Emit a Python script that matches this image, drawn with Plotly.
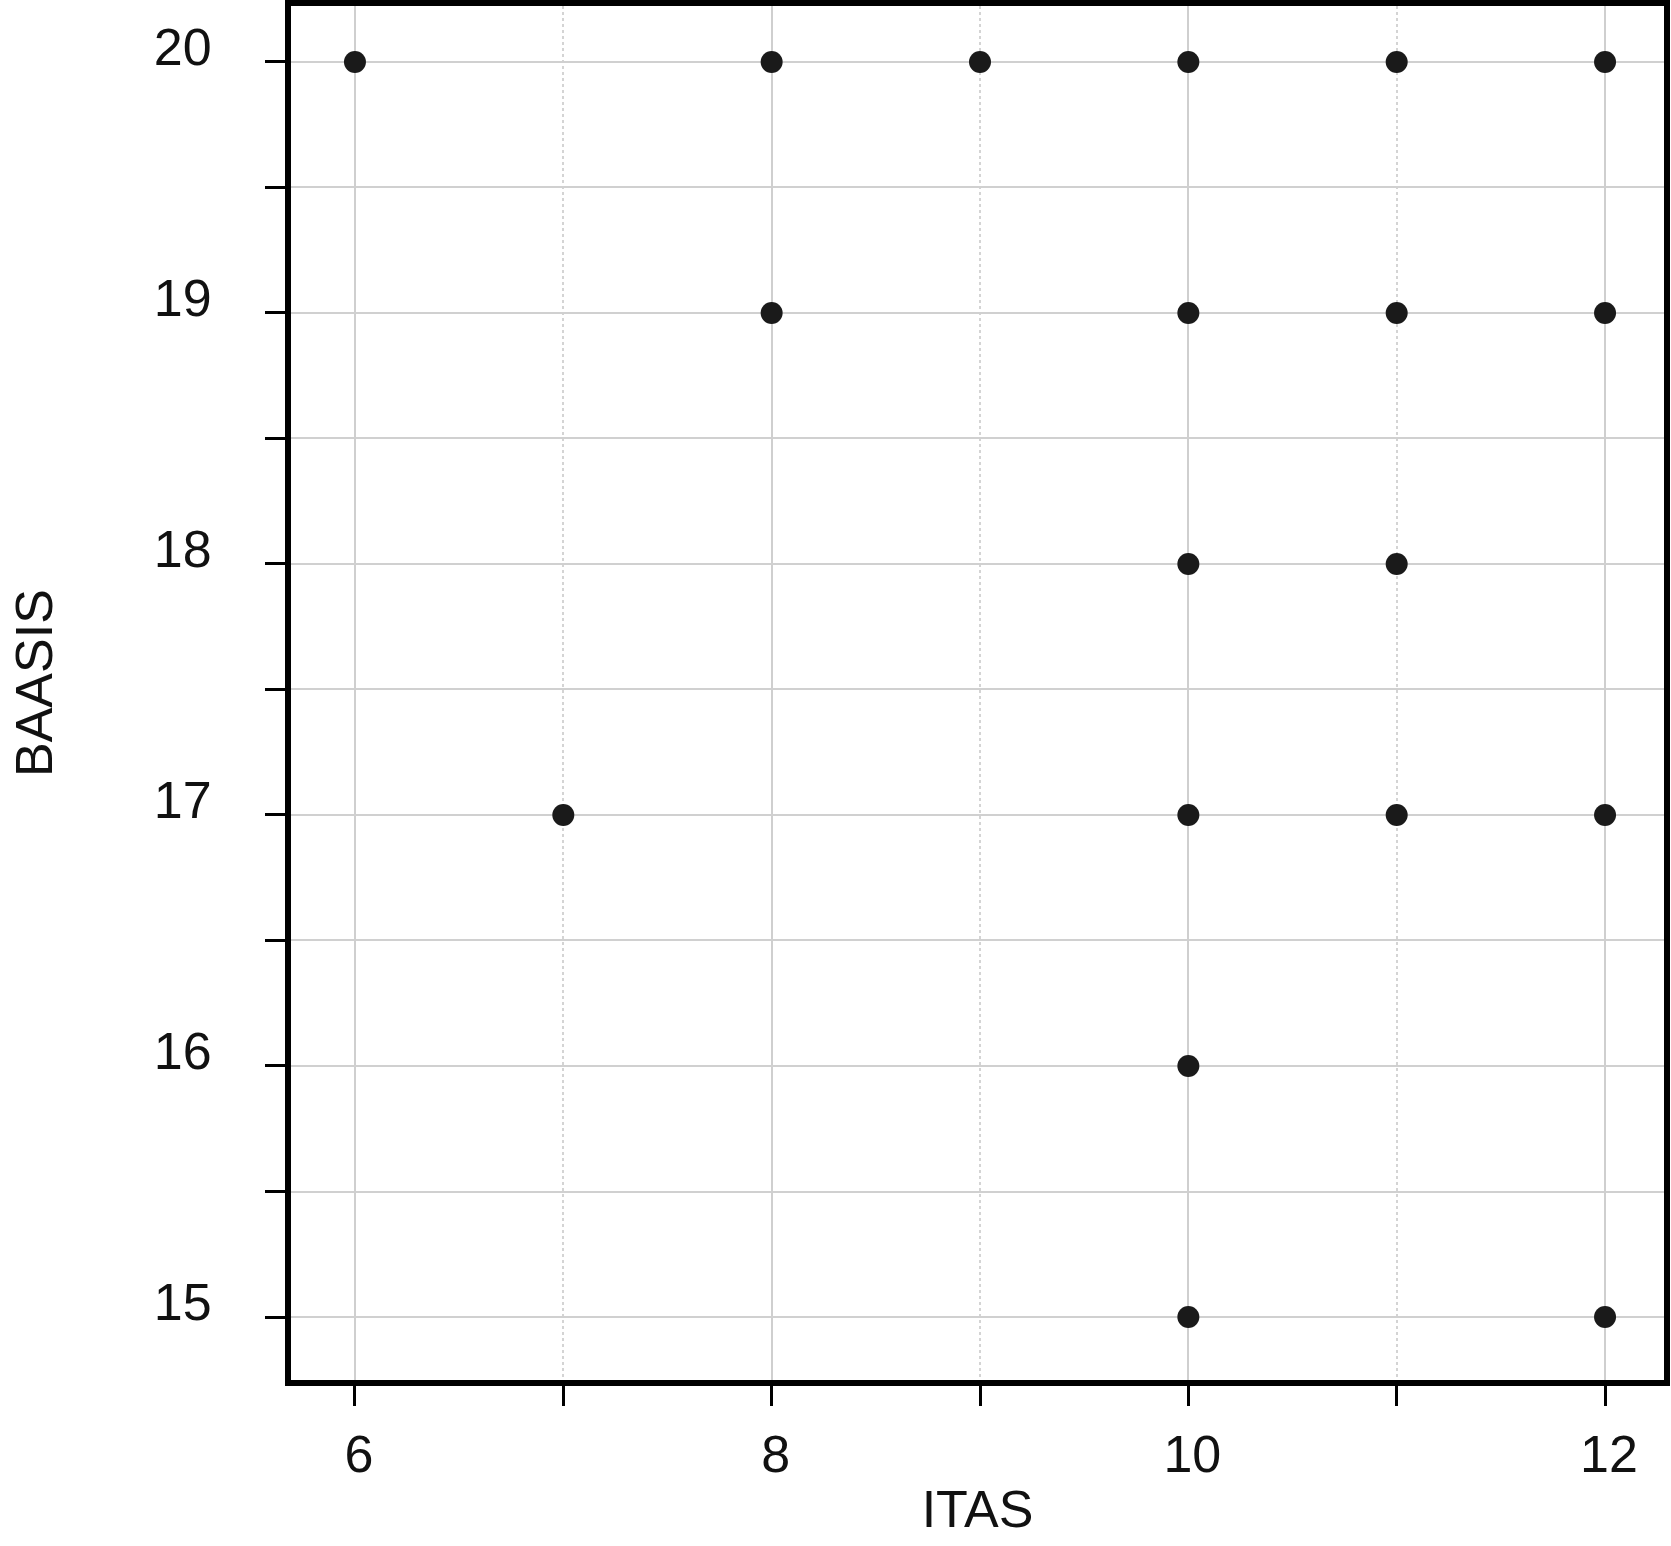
import plotly.graph_objects as go

# ITAS vs BAASIS scores
itas   = [6, 8, 9, 10, 11, 12, 8, 10, 11, 12, 10, 11, 7, 10, 11, 12, 10, 10, 12]
baasis = [20, 20, 20, 20, 20, 20, 19, 19, 19, 19, 18, 18, 17, 17, 17, 17, 16, 15, 15]

x_major = [6, 8, 10, 12]
x_minor = [7, 9, 11]
y_major = [15, 16, 17, 18, 19, 20]
y_minor = [14.5, 15.5, 16.5, 17.5, 18.5, 19.5]

FONT = "Liberation Sans Narrow, Arial Narrow, Liberation Sans, sans-serif"

fig = go.Figure()
fig.add_trace(go.Scatter(x=itas, y=baasis, mode="markers",
                         marker=dict(size=22, color="#1a1a1a"),
                         showlegend=False))

fig.update_layout(
    width=1671, height=1546,
    margin=dict(l=291, r=7, t=6, b=166),
    paper_bgcolor="white", plot_bgcolor="white",
    font=dict(family=FONT, size=52, color="#111111"),
)

fig.update_xaxes(
    range=[5.693, 12.283], automargin=False,
    tickvals=x_major, ticktext=[str(v) for v in x_major],
    ticks="outside", ticklen=20, tickwidth=3, tickcolor="black",
    showgrid=True, gridcolor="#cfcfcf", gridwidth=2,
    zeroline=False,
    showline=True, linewidth=6, linecolor="black", mirror=True,
    ticklabelstandoff=4, ticklabelshift=4,
    minor=dict(tickvals=x_minor, ticks="outside", ticklen=20, tickwidth=3,
               tickcolor="black", showgrid=True, gridcolor="#d4d4d4",
               gridwidth=2, griddash="dot"),
    title=dict(text="ITAS", standoff=10, font=dict(size=52)),
)

fig.update_yaxes(
    range=[14.749, 20.223], automargin=False,
    tickvals=y_major, ticktext=[str(v) for v in y_major],
    ticks="outside", ticklen=20, tickwidth=3, tickcolor="black",
    showgrid=True, gridcolor="#d0d0d0", gridwidth=2,
    zeroline=False,
    showline=True, linewidth=6, linecolor="black", mirror=True,
    ticklabelstandoff=43, ticklabelshift=-15,
    minor=dict(tickvals=y_minor, ticks="outside", ticklen=20, tickwidth=3,
               tickcolor="black", showgrid=True, gridcolor="#d0d0d0",
               gridwidth=2),
)

# y title as an annotation so it can sit close to the page edge
fig.add_annotation(text="BAASIS", textangle=-90, showarrow=False,
                   xref="paper", yref="paper", x=0, y=0.5,
                   xanchor="center", yanchor="middle",
                   xshift=-257, yshift=10, font=dict(size=52))

# drop the default body margin so the figure fills the window exactly
fig.write_html("out.html",
               config={"displayModeBar": False},
               post_script="document.body.style.margin='0';"
                           "document.body.style.overflow='hidden';")
